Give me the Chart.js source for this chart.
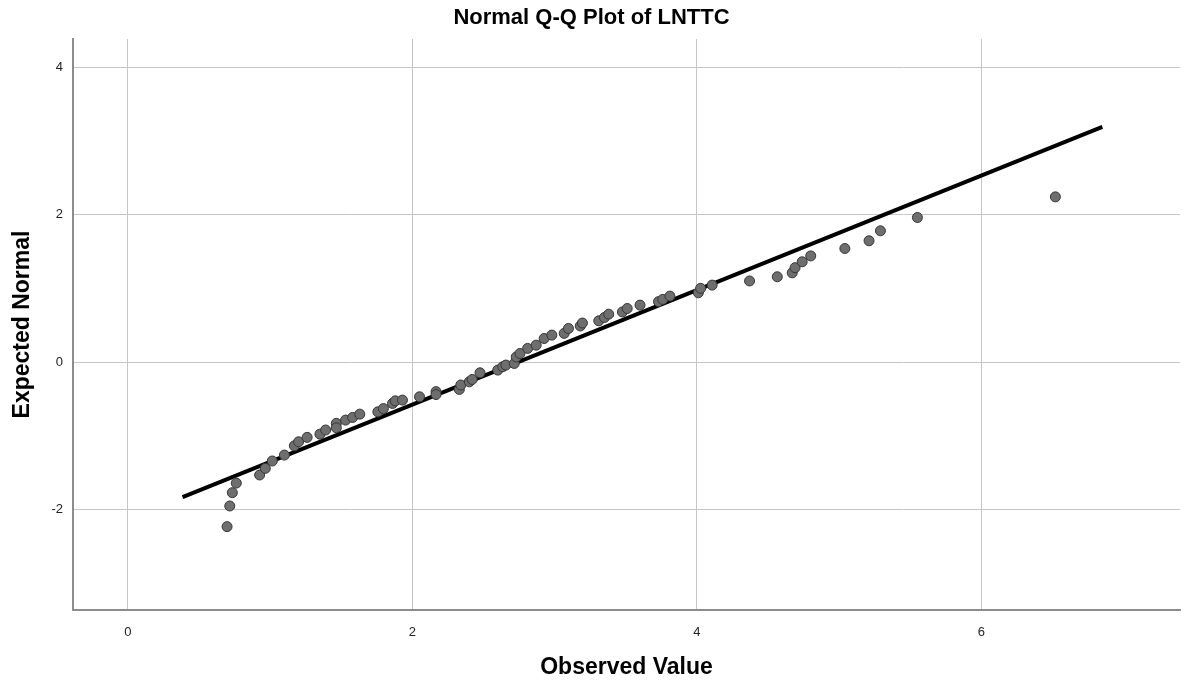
<!DOCTYPE html>
<html>
<head>
<meta charset="utf-8">
<script src="https://cdn.jsdelivr.net/npm/chart.js@4"></script>
<style>
  html, body { margin: 0; padding: 0; background: #fff; }
  #wrap { width: 1186px; height: 681px; position: relative; }
</style>
</head>
<body>
<div id="wrap"><canvas id="c" width="1186" height="681"></canvas></div>
<script>
// Observed values (x) and expected normal values (y)
const observed = [0.697,0.716,0.734,0.762,0.926,0.966,1.015,1.10,1.17,1.20,1.26,1.35,1.39,1.465,1.465,1.53,1.58,1.63,1.757,1.796,1.86,1.88,1.93,2.05,2.166,2.166,2.33,2.34,2.40,2.42,2.475,2.60,2.635,2.657,2.716,2.73,2.756,2.81,2.87,2.926,2.98,3.067,3.097,3.18,3.195,3.31,3.35,3.38,3.476,3.51,3.60,3.73,3.76,3.81,4.01,4.026,4.107,4.37,4.565,4.67,4.69,4.74,4.80,5.04,5.21,5.29,5.55,6.52];
const expected = [-2.23,-1.95,-1.77,-1.64,-1.53,-1.44,-1.34,-1.26,-1.135,-1.08,-1.02,-0.976,-0.92,-0.83,-0.89,-0.786,-0.75,-0.705,-0.674,-0.63,-0.56,-0.525,-0.515,-0.47,-0.40,-0.44,-0.37,-0.31,-0.267,-0.235,-0.145,-0.108,-0.063,-0.04,-0.018,0.07,0.117,0.186,0.23,0.32,0.366,0.39,0.456,0.49,0.53,0.56,0.605,0.65,0.68,0.727,0.773,0.82,0.85,0.895,0.94,1.0,1.044,1.10,1.157,1.21,1.28,1.36,1.44,1.54,1.645,1.78,1.96,2.24];
// Reference line endpoints
const lineX = [0.384, 6.85];
const lineY = [-1.83, 3.19];
// Tick labels
const xTicks = [0, 2, 4, 6];
const yTicks = [-2, 0, 2, 4];
const xRange = [-0.386, 7.396];
const yRange = [-3.36, 4.38];

const FONT = "'Liberation Sans', Arial, sans-serif";

const points = observed.map((v, i) => ({ x: v, y: expected[i] }));
const linePts = lineX.map((v, i) => ({ x: v, y: lineY[i] }));

new Chart(document.getElementById('c'), {
  type: 'scatter',
  data: {
    datasets: [
      {
        type: 'scatter',
        data: points,
        pointRadius: 5,
        pointHoverRadius: 5,
        backgroundColor: '#6e6e6e',
        borderColor: '#363636',
        borderWidth: 1,
        order: 0
      },
      {
        type: 'line',
        data: linePts,
        borderColor: '#000',
        borderWidth: 4,
        pointRadius: 0,
        fill: false,
        order: 1
      }
    ]
  },
  options: {
    responsive: false,
    animation: false,
    events: [],
    layout: { padding: { left: 0, right: 3, top: 0, bottom: 0 } },
    plugins: {
      legend: { display: false },
      tooltip: { enabled: false },
      title: {
        display: true,
        text: 'Normal Q-Q Plot of LNTTC',
        color: '#000',
        font: { family: FONT, size: 22, weight: 'bold', lineHeight: 1.2 },
        padding: { top: 5, bottom: 7.6 }
      }
    },
    scales: {
      x: {
        type: 'linear',
        min: xRange[0],
        max: xRange[1],
        afterBuildTicks: s => { s.ticks = xTicks.map(v => ({ value: v })); },
        afterFit: s => { s.height = 71; },
        grid: { color: '#c6c6c6', lineWidth: 1, drawTicks: false },
        border: { display: true, color: '#8c8c8c', width: 2 },
        ticks: { color: '#222', padding: 15, font: { family: FONT, size: 13 } },
        title: {
          display: true,
          text: 'Observed Value',
          color: '#000',
          font: { family: FONT, size: 23, weight: 'bold', lineHeight: 1.2 },
          padding: { top: 0, bottom: 0 }
        }
      },
      y: {
        type: 'linear',
        min: yRange[0],
        max: yRange[1],
        afterBuildTicks: s => { s.ticks = yTicks.map(v => ({ value: v })); },
        afterFit: s => { s.width = 73; },
        grid: { color: '#c6c6c6', lineWidth: 1, drawTicks: false },
        border: { display: true, color: '#8c8c8c', width: 2 },
        ticks: { color: '#222', padding: 10, font: { family: FONT, size: 13 } },
        title: {
          display: true,
          text: 'Expected Normal',
          color: '#000',
          font: { family: FONT, size: 23, weight: 'bold', lineHeight: 1.2 },
          padding: { top: 9, bottom: 0 }
        }
      }
    }
  }
});
</script>
</body>
</html>
